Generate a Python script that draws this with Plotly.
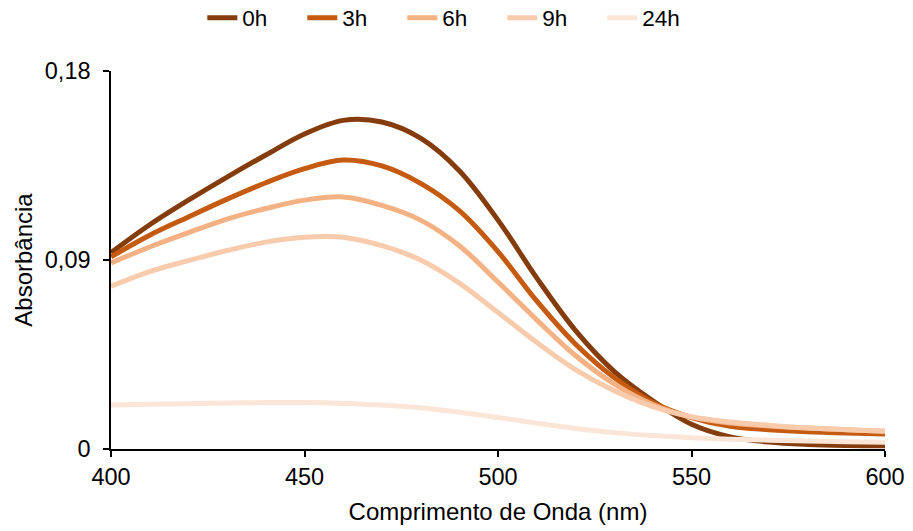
import plotly.graph_objects as go

wavelength = [400, 410, 420, 430, 440, 450, 460, 470, 480, 490, 500,
              510, 520, 530, 540, 550, 560, 570, 580, 590, 600]

abs_0h = [0.0935, 0.1068, 0.1185, 0.1295, 0.1400, 0.1500, 0.1565, 0.1557, 0.1480, 0.1325, 0.1090,
          0.0815, 0.0565, 0.0370, 0.0230, 0.0118, 0.0058, 0.0033, 0.0022, 0.0017, 0.0015]
abs_3h = [0.0915, 0.1018, 0.1105, 0.1190, 0.1268, 0.1335, 0.1376, 0.1348, 0.1265, 0.1135, 0.0940,
          0.0705, 0.0500, 0.0340, 0.0222, 0.0150, 0.0108, 0.0092, 0.0082, 0.0076, 0.0072]
abs_6h = [0.0886, 0.0962, 0.1030, 0.1095, 0.1145, 0.1185, 0.1200, 0.1160, 0.1090, 0.0968, 0.0795,
          0.0615, 0.0445, 0.0310, 0.0212, 0.0152, 0.0124, 0.0110, 0.0100, 0.0092, 0.0085]
abs_9h = [0.0775, 0.0845, 0.0897, 0.0945, 0.0985, 0.1008, 0.1008, 0.0968, 0.0900, 0.0790, 0.0650,
          0.0508, 0.0378, 0.0278, 0.0202, 0.0154, 0.0129, 0.0113, 0.0100, 0.0092, 0.0085]
abs_24h = [0.0210, 0.0213, 0.0216, 0.0219, 0.0221, 0.0221, 0.0217, 0.0209, 0.0196, 0.0175, 0.0150,
           0.0123, 0.0098, 0.0078, 0.0064, 0.0054, 0.0047, 0.0042, 0.0038, 0.0035, 0.0032]

series_names = ["0h", "3h", "6h", "9h", "24h"]
series_values = [abs_0h, abs_3h, abs_6h, abs_9h, abs_24h]
series_colors = ["#843C0C", "#C55A11", "#F4B183", "#F8CBAD", "#FBE5D6"]

x_ticks = [400, 450, 500, 550, 600]
y_ticks = [0, 0.09, 0.18]
y_tick_labels = ["0", "0,09", "0,18"]

FONT = "Liberation Sans, Arial, sans-serif"

fig = go.Figure()
for name, vals, col in zip(series_names, series_values, series_colors):
    fig.add_trace(go.Scatter(x=wavelength, y=vals, name=name, mode="lines",
                             line=dict(color=col, width=5, shape="spline", smoothing=1.0)))

axis_common = dict(showgrid=False, zeroline=False, showline=True, linecolor="black",
                   linewidth=1.5, tickcolor="black", tickwidth=1.5, ticklen=6)

fig.update_layout(
    width=913, height=531,
    margin=dict(l=111, r=28, t=71, b=82, autoexpand=False),
    plot_bgcolor="white", paper_bgcolor="white",
    font=dict(family=FONT, size=23, color="black"),
    showlegend=True,
    legend=dict(orientation="h", x=0.118, xanchor="left", y=1.14, yanchor="middle",
                font=dict(size=22.5), itemwidth=30, tracegroupgap=0,
                entrywidth=55, entrywidthmode="pixels"),
    xaxis=dict(range=[400, 600], tickvals=x_ticks, ticks="outside",
               title=dict(text="Comprimento de Onda (nm)", font=dict(size=24), standoff=14),
               tickfont=dict(size=23.5), **axis_common),
    yaxis=dict(range=[0, 0.18], tickvals=y_ticks, ticktext=y_tick_labels, ticks="outside",
               title=dict(text="Absorbância", font=dict(size=24), standoff=5),
               tickfont=dict(size=23.5), ticklabelstandoff=8, **axis_common),
    xaxis2=dict(range=[400, 600], tickvals=x_ticks, ticks="inside", overlaying="x",
                anchor="y", side="bottom", showticklabels=False, **axis_common),
    yaxis2=dict(range=[0, 0.18], tickvals=y_ticks, ticks="inside", overlaying="y",
                anchor="x", side="left", showticklabels=False, **axis_common),
)

fig.write_html("out.html")
